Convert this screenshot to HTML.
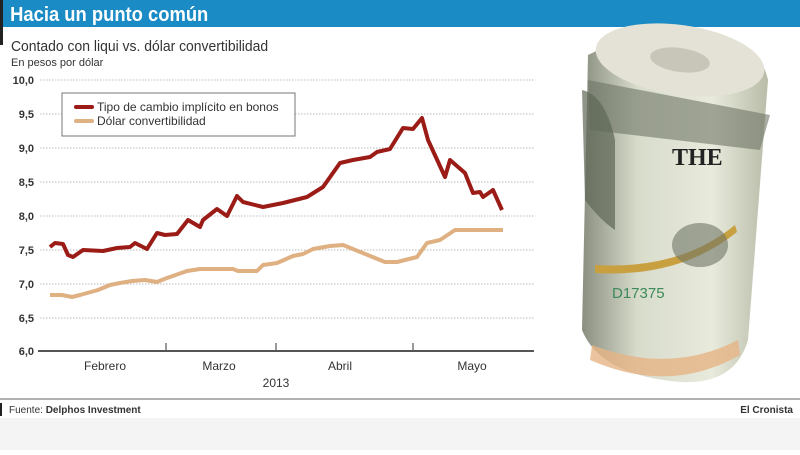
<!DOCTYPE html>
<html><head><meta charset="utf-8"><style>
body{margin:0;width:800px;height:450px;overflow:hidden;background:#fff;font-family:"Liberation Sans",sans-serif}
</style></head><body>
<svg width="800" height="450" viewBox="0 0 800 450" xmlns="http://www.w3.org/2000/svg" font-family="Liberation Sans, sans-serif">
<rect x="0" y="0" width="800" height="450" fill="#fff"/>
<rect x="0" y="0" width="800" height="27" fill="#1a8bc4"/>
<rect x="0" y="0" width="3" height="45" fill="#222"/>
<text x="11" y="21" font-size="20" font-weight="bold" fill="#fff" transform="scale(0.92,1)">Hacia un punto común</text>
<text x="11" y="51" font-size="15" fill="#333" transform="scale(0.93,1)" style="transform-origin:11px 51px">Contado con liqui vs. dólar convertibilidad</text>
<text x="11" y="66" font-size="11" fill="#333">En pesos por dólar</text>
<g stroke="#bbb" stroke-dasharray="1.5,1.5" stroke-width="1">
<line x1="40" y1="80" x2="535" y2="80"/><line x1="40" y1="114" x2="535" y2="114"/><line x1="40" y1="148" x2="535" y2="148"/><line x1="40" y1="182" x2="535" y2="182"/><line x1="40" y1="216" x2="535" y2="216"/><line x1="40" y1="250" x2="535" y2="250"/><line x1="40" y1="284" x2="535" y2="284"/><line x1="40" y1="318" x2="535" y2="318"/>
</g>
<g font-size="11" font-weight="bold" fill="#333" text-anchor="end">
<text x="34" y="84">10,0</text><text x="34" y="118">9,5</text><text x="34" y="152">9,0</text><text x="34" y="186">8,5</text><text x="34" y="220">8,0</text><text x="34" y="254">7,5</text><text x="34" y="288">7,0</text><text x="34" y="322">6,5</text><text x="34" y="355">6,0</text>
</g>
<line x1="38" y1="351" x2="534" y2="351" stroke="#555" stroke-width="2"/>
<g stroke="#555" stroke-width="1.2"><line x1="166" y1="343" x2="166" y2="351"/><line x1="276" y1="343" x2="276" y2="351"/><line x1="413" y1="343" x2="413" y2="351"/></g>
<g font-size="12" fill="#333" text-anchor="middle">
<text x="105" y="370">Febrero</text><text x="219" y="370">Marzo</text><text x="340" y="370">Abril</text><text x="472" y="370">Mayo</text><text x="276" y="387">2013</text>
</g>
<polyline fill="none" stroke="#dfb082" stroke-width="4" stroke-linejoin="round" points="50,295 62,295 72,297 80,295 98,290 110,285 120,283 132,281 145,280 157,282 167,278 187,271 200,269 233,269 238,271 257,271 263,265 277,263 293,256 303,254 313,249 330,246 343,245 385,262 397,262 417,257 427,243 440,240 455,230 503,230"/>
<polyline fill="none" stroke="#9b1c16" stroke-width="4" stroke-linejoin="round" points="50,247 55,243 63,244 68,255 73,257 83,250 103,251 117,248 130,247 135,243 147,249 157,233 165,235 177,234 188,220 200,227 203,220 217,209 227,216 237,196 243,202 263,207 283,203 307,197 323,187 340,163 353,160 370,157 377,152 390,149 403,128 413,129 422,118 428,140 445,177 450,160 465,173 473,193 480,192 483,197 493,190 502,210"/>
<rect x="62" y="93" width="233" height="43" fill="#fff" stroke="#777" stroke-width="1"/>
<line x1="76" y1="107" x2="92" y2="107" stroke="#9b1c16" stroke-width="4" stroke-linecap="round"/>
<line x1="76" y1="121" x2="92" y2="121" stroke="#dfb082" stroke-width="4" stroke-linecap="round"/>
<text x="97" y="111" font-size="12" fill="#333">Tipo de cambio implícito en bonos</text>
<text x="97" y="125" font-size="12" fill="#333">Dólar convertibilidad</text>
<!-- money roll -->
<defs><linearGradient id="g" x1="0" x2="1"><stop offset="0" stop-color="#8a8f80"/><stop offset="0.3" stop-color="#d8dccb"/><stop offset="0.7" stop-color="#e8eadc"/><stop offset="1" stop-color="#b9bca8"/></linearGradient></defs>
<path d="M588,55 Q640,28 700,32 Q760,40 768,80 L748,340 Q735,385 680,382 Q600,375 582,330 Z" fill="url(#g)"/>
<ellipse cx="680" cy="60" rx="85" ry="35" fill="#e4e2d6" transform="rotate(8 680 60)"/>
<ellipse cx="680" cy="60" rx="30" ry="12" fill="#c8c6b8" transform="rotate(8 680 60)"/>
<path d="M588,80 L770,115 L760,150 L590,130 Z" fill="#6e7466" opacity="0.6"/>
<path d="M582,90 Q605,95 615,140 L615,230 Q600,220 585,200 Z" fill="#5e6656" opacity="0.7"/>
<path d="M595,265 Q680,270 735,225 L737,232 Q680,278 595,273 Z" fill="#c9a040"/>
<ellipse cx="700" cy="245" rx="28" ry="22" fill="#6e7466" opacity="0.6"/>
<text x="672" y="165" font-size="24" font-weight="bold" font-family="Liberation Serif, serif" fill="#222">THE</text>
<text x="612" y="298" font-size="15" fill="#3c8a5a">D17375</text>
<path d="M590,360 Q670,395 740,355 L738,340 Q670,375 592,345 Z" fill="#e6b486" opacity="0.8"/>
<line x1="0" y1="399" x2="800" y2="399" stroke="#999" stroke-width="1.5"/>
<rect x="0" y="403" width="2" height="13" fill="#222"/>
<text x="9" y="413" font-size="10" fill="#333">Fuente: <tspan font-weight="bold">Delphos Investment</tspan></text>
<text x="793" y="413" font-size="10" font-weight="bold" fill="#333" text-anchor="end">El Cronista</text>
<rect x="0" y="418" width="800" height="32" fill="#f4f4f4"/>
</svg>
</body></html>
